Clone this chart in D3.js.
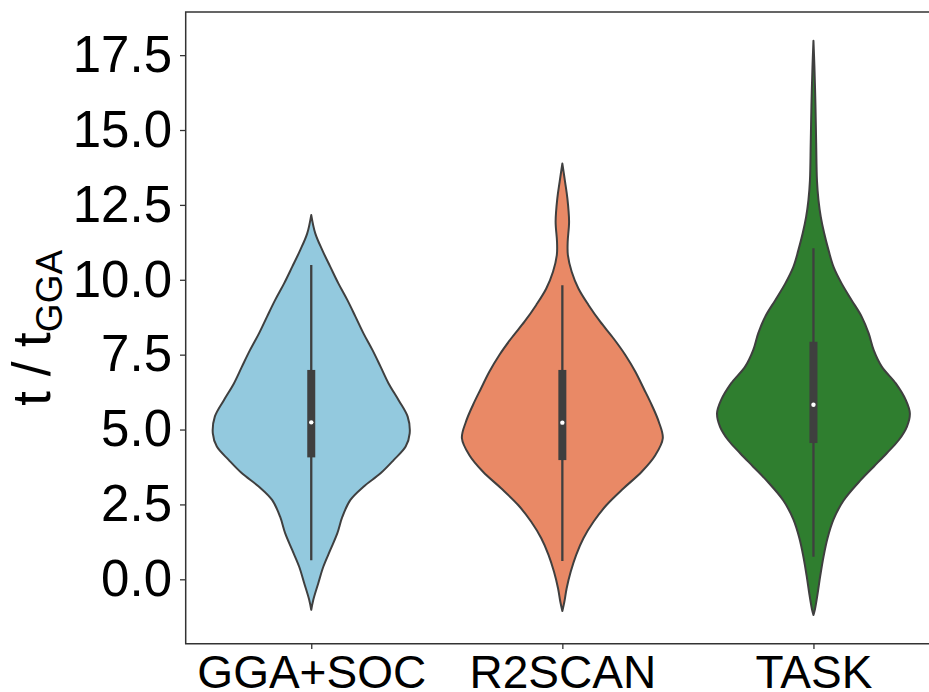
<!DOCTYPE html>
<meta charset="utf-8">
<script src="https://cdn.jsdelivr.net/npm/d3@7"></script>
<style>
    body { margin: 0; background: #fff; }
    svg { display: block; font-family: "Liberation Sans", Arial, Helvetica, sans-serif; }
</style>
<body>
<svg width="929" height="692"></svg>
</body>
<script>

    // categories and colours
    var categories = ["GGA+SOC", "R2SCAN", "TASK"];
    var fillColors = ["#93c9de", "#e98966", "#2f7e2f"];

    // violin outlines: value levels and relative half width (1 = full width)
    var ggaSocLevels  = [12.16, 11.55, 10.99, 10.43, 9.88, 9.32, 8.77, 8.21, 7.65, 7.10, 6.54, 5.98, 5.43, 4.87, 4.43, 3.98, 3.54, 3.09, 2.65, 2.09, 1.54, 0.98, 0.42, -0.13, -0.69, -1.02];
    var ggaSocDensity = [0, 0.04, 0.11, 0.19, 0.27, 0.36, 0.44, 0.52, 0.61, 0.69, 0.77, 0.87, 0.96, 0.98, 0.94, 0.82, 0.69, 0.52, 0.39, 0.31, 0.26, 0.19, 0.12, 0.07, 0.02, 0];

    var r2scanLevels  = [13.88, 13.27, 12.72, 11.94, 11.27, 10.82, 10.27, 9.71, 9.16, 8.60, 8.04, 7.49, 6.93, 6.37, 5.82, 5.26, 4.71, 4.15, 3.59, 3.04, 2.48, 1.92, 1.37, 0.81, 0.25, -0.30, -0.75, -1.06];
    var r2scanDensity = [0, 0.027, 0.05, 0.067, 0.053, 0.055, 0.093, 0.16, 0.26, 0.377, 0.51, 0.627, 0.727, 0.81, 0.89, 0.96, 1.0, 0.927, 0.79, 0.61, 0.44, 0.31, 0.21, 0.137, 0.083, 0.043, 0.02, 0];

    var taskLevels  = [17.98, 17.08, 15.82, 14.57, 13.31, 12.66, 12.10, 11.55, 10.99, 10.43, 9.88, 9.32, 8.77, 8.21, 7.65, 7.10, 6.54, 5.98, 5.54, 5.09, 4.65, 4.21, 3.76, 3.31, 2.63, 2.00, 1.37, 0.75, 0.12, -0.51, -1.00, -1.19];
    var taskDensity = [0, 0.01, 0.02, 0.027, 0.035, 0.05, 0.073, 0.107, 0.15, 0.20, 0.28, 0.38, 0.48, 0.55, 0.60, 0.68, 0.82, 0.92, 0.96, 0.93, 0.85, 0.73, 0.60, 0.47, 0.30, 0.20, 0.14, 0.10, 0.068, 0.04, 0.015, 0];

    // inner box statistics
    var medians     = [5.24, 5.23, 5.83];
    var q1s         = [4.07, 3.98, 4.55];
    var q3s         = [6.99, 6.99, 7.93];
    var whiskerLow  = [0.64, 0.61, 0.75];
    var whiskerHigh = [10.49, 9.82, 11.05];

    var yTicks = [0, 2.5, 5, 7.5, 10, 12.5, 15, 17.5];

    var lineClr = "#3f3f3f",
        spineClr = "#333333";

    var svg = d3.select("svg");

    var plotLeft = 185.7, plotTop = 12, plotBottom = 643.7, plotRight = 939;

    var x = d3.scalePoint()
        .domain(categories)
        .range([plotLeft, plotRight])
        .padding(0.5);

    var y = d3.scaleLinear()
        .domain([-2.15, 18.94])
        .range([plotBottom, plotTop]);

    // half width of a violin, in pixels
    var w = d3.scaleLinear().domain([0, 1]).range([0, x.step() * 0.4]);

    var profiles = [
        d3.zip(ggaSocLevels, ggaSocDensity),
        d3.zip(r2scanLevels, r2scanDensity),
        d3.zip(taskLevels, taskDensity)
    ];

    var violins = svg.append("g")
        .selectAll("g")
        .data(categories)
        .enter()
        .append("g");

    // violin bodies
    violins.append("path")
        .attr("d", function (d, i) {
            var cx = x(d);
            var area = d3.area()
                .curve(d3.curveCatmullRom.alpha(0.5))
                .y(function (p) { return y(p[0]); })
                .x0(function (p) { return cx - w(p[1]); })
                .x1(function (p) { return cx + w(p[1]); });
            return area(profiles[i]);
        })
        .attr("fill", function (d, i) { return fillColors[i]; })
        .attr("stroke", lineClr)
        .attr("stroke-width", 2)
        .attr("stroke-linejoin", "round");

    // whiskers
    violins.append("line")
        .attr("x1", function (d) { return x(d); })
        .attr("x2", function (d) { return x(d); })
        .attr("y1", function (d, i) { return y(whiskerLow[i]); })
        .attr("y2", function (d, i) { return y(whiskerHigh[i]); })
        .attr("stroke", lineClr)
        .attr("stroke-width", 2.3);

    // quartile box
    violins.append("rect")
        .attr("x", function (d) { return x(d) - 4; })
        .attr("width", 8)
        .attr("y", function (d, i) { return y(q3s[i]); })
        .attr("height", function (d, i) { return y(q1s[i]) - y(q3s[i]); })
        .attr("fill", lineClr);

    // median
    violins.append("circle")
        .attr("cx", function (d) { return x(d); })
        .attr("cy", function (d, i) { return y(medians[i]); })
        .attr("r", 2.2)
        .attr("fill", "white");

    // axes
    var yAxis = svg.append("g")
        .attr("transform", "translate(" + plotLeft + ",0)")
        .call(d3.axisLeft(y)
            .tickValues(yTicks)
            .tickFormat(d3.format(".1f"))
            .tickSize(5.7)
            .tickSizeOuter(0)
            .tickPadding(8));
    yAxis.select(".domain").remove();
    yAxis.selectAll("line").attr("stroke", spineClr).attr("stroke-width", 1.3);
    yAxis.selectAll("text")
        .attr("fill", "#000")
        .style("font-size", "51px")
        .style("font-family", "'Liberation Sans', Arial, sans-serif");

    var xAxis = svg.append("g")
        .attr("transform", "translate(0," + plotBottom + ")")
        .call(d3.axisBottom(x)
            .tickSize(5.3)
            .tickSizeOuter(0)
            .tickPadding(6));
    xAxis.select(".domain").remove();
    xAxis.selectAll("line").attr("stroke", spineClr).attr("stroke-width", 1.3);
    xAxis.selectAll("text")
        .attr("fill", "#000")
        .style("font-size", "46px")
        .style("font-family", "'Liberation Sans', Arial, sans-serif");

    // spines (the right one falls outside the picture)
    svg.append("path")
        .attr("d", "M" + plotRight + "," + plotTop + "H" + plotLeft + "V" + plotBottom + "H" + plotRight)
        .attr("stroke", spineClr)
        .attr("stroke-width", 1.5)
        .attr("fill", "none");

    // y label
    var label = svg.append("text")
        .attr("transform", "translate(50," + (plotTop + plotBottom) / 2 + ") rotate(-90)")
        .attr("text-anchor", "middle")
        .attr("fill", "#000")
        .style("font-size", "53px");
    label.append("tspan").text("t / t");
    label.append("tspan")
        .attr("dy", 12)
        .style("font-size", "37px")
        .text("GGA");

</script>
